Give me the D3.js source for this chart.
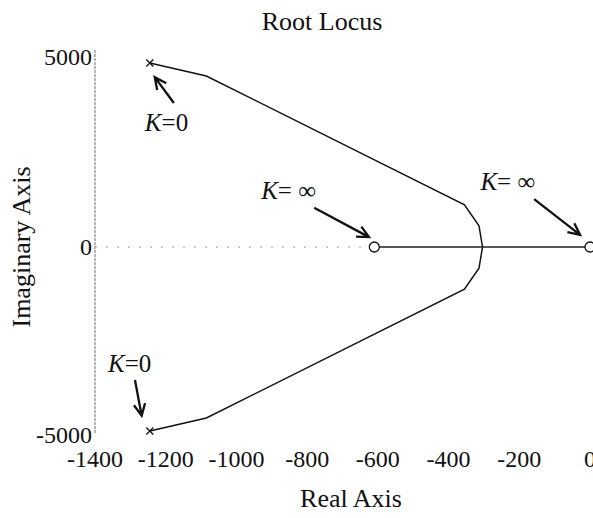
<!DOCTYPE html>
<html>
<head>
<meta charset="utf-8">
<script src="https://cdn.jsdelivr.net/npm/d3@7"></script>
<style>
  body { margin: 0; background: #fff; }
  svg text { font-family: "Liberation Serif", "Times New Roman", serif; fill: #111; }
</style>
</head>
<body>
<div id="chart"></div>
<script>
// root locus data
var polesRe = [-1245, -1245];
var polesIm = [4840, -4840];
var zerosRe = [-610, 0];
var zerosIm = [0, 0];

// upper complex branch, pole -> breakin point (lower is the mirror)
var branchRe = [-1245, -1085, -355, -314, -304];
var branchIm = [4840, 4500, 1110, 560, 0];

// real axis segment between the two zeros
var realRe = [-610, 0];

var xTicks = [-1400, -1200, -1000, -800, -600, -400, -200, 0];
var yTicks = [-5000, 0, 5000];

// annotations: text anchor and arrow tail/head, in data units
var notes = [
    { k: "=0",  tx: -1259, ty: 3050,  x1: -1177, y1: 3790,  x2: -1231, y2: 4470 },
    { k: "=0",  tx: -1363, ty: -3290, x1: -1287, y1: -3500, x2: -1268, y2: -4440 },
    { k: "= \u221e", tx: -930, ty: 1260, x1: -780, y1: 1030, x2: -625, y2: 260 },
    { k: "= \u221e", tx: -310, ty: 1500, x1: -158, y1: 1260, x2: -28, y2: 320 },
];

var width = 593, height = 518;

var svg = d3.select("#chart").append("svg")
    .attr("width", width)
    .attr("height", height);

svg.append("rect").attr("width", width).attr("height", height).attr("fill", "#fff");

var x = d3.scaleLinear().domain([-1400, 0]).range([95, 590]);
var y = d3.scaleLinear().domain([-5000, 5000]).range([437, 57]);

// faint axis lines like the scan
svg.append("line")
    .attr("x1", 95).attr("x2", 95).attr("y1", 50).attr("y2", 433)
    .attr("stroke", "#888").attr("stroke-width", 1.2)
    .attr("stroke-dasharray", "3,1");

svg.append("line")
    .attr("x1", 95).attr("x2", x(-620)).attr("y1", y(0)).attr("y2", y(0))
    .attr("stroke", "#999").attr("stroke-width", 1)
    .attr("stroke-dasharray", "2,9");

// tick labels
svg.selectAll("text.xt").data(xTicks).enter().append("text")
    .attr("class", "xt")
    .attr("x", function(d) { return x(d); })
    .attr("y", 467)
    .attr("text-anchor", "middle")
    .attr("font-size", 24)
    .text(function(d) { return d; });

svg.selectAll("text.yt").data(yTicks).enter().append("text")
    .attr("class", "yt")
    .attr("x", 92)
    .attr("y", function(d) { return y(d) + 8 - (d < 0 ? 2 : 0); })
    .attr("text-anchor", "end")
    .attr("font-size", 24)
    .text(function(d) { return d; });

// titles
svg.append("text")
    .attr("x", 322).attr("y", 30)
    .attr("text-anchor", "middle")
    .attr("font-size", 26)
    .text("Root Locus");

svg.append("text")
    .attr("x", 351).attr("y", 507)
    .attr("text-anchor", "middle")
    .attr("font-size", 26)
    .text("Real Axis");

svg.append("text")
    .attr("transform", "translate(30,247) rotate(-90)")
    .attr("text-anchor", "middle")
    .attr("font-size", 26)
    .text("Imaginary Axis");

// locus branches
var line = d3.line()
    .x(function(d) { return x(d[0]); })
    .y(function(d) { return y(d[1]); });

var upper = branchRe.map(function(r, i) { return [r, branchIm[i]]; });
var lower = branchRe.map(function(r, i) { return [r, -branchIm[i]]; });

[upper, lower].forEach(function(pts) {
    svg.append("path")
        .attr("d", line(pts))
        .attr("fill", "none")
        .attr("stroke", "#111")
        .attr("stroke-width", 1.5);
});

svg.append("path")
    .attr("d", line(realRe.map(function(r) { return [r, 0]; })))
    .attr("fill", "none")
    .attr("stroke", "#222")
    .attr("stroke-width", 1.7);

// poles (x) and zeros (o)
var s = 3.5;
polesRe.forEach(function(r, i) {
    var px = x(r), py = y(polesIm[i]);
    svg.append("path")
        .attr("d", "M" + (px - s) + "," + (py - s) + "L" + (px + s) + "," + (py + s) +
                   "M" + (px - s) + "," + (py + s) + "L" + (px + s) + "," + (py - s))
        .attr("stroke", "#111").attr("stroke-width", 1.3);
});

svg.selectAll("circle.zero").data(zerosRe).enter().append("circle")
    .attr("class", "zero")
    .attr("cx", function(d) { return x(d); })
    .attr("cy", function(d, i) { return y(zerosIm[i]); })
    .attr("r", 5)
    .attr("fill", "#fff")
    .attr("stroke", "#111")
    .attr("stroke-width", 1.3);

// annotations with open arrow heads
notes.forEach(function(n) {
    var t = svg.append("text")
        .attr("x", x(n.tx)).attr("y", y(n.ty))
        .attr("font-size", 25);
    t.append("tspan").attr("font-style", "italic").text("K");
    t.append("tspan").text(n.k);

    var x1 = x(n.x1), y1 = y(n.y1), x2 = x(n.x2), y2 = y(n.y2);
    var a = Math.atan2(y2 - y1, x2 - x1);
    var h = 13, w = 0.45;
    var d = "M" + x1 + "," + y1 + "L" + x2 + "," + y2 +
        "M" + (x2 - h * Math.cos(a - w)) + "," + (y2 - h * Math.sin(a - w)) +
        "L" + x2 + "," + y2 +
        "L" + (x2 - h * Math.cos(a + w)) + "," + (y2 - h * Math.sin(a + w));
    svg.append("path")
        .attr("d", d)
        .attr("fill", "none")
        .attr("stroke", "#111")
        .attr("stroke-width", 2.3);
});
</script>
</body>
</html>
